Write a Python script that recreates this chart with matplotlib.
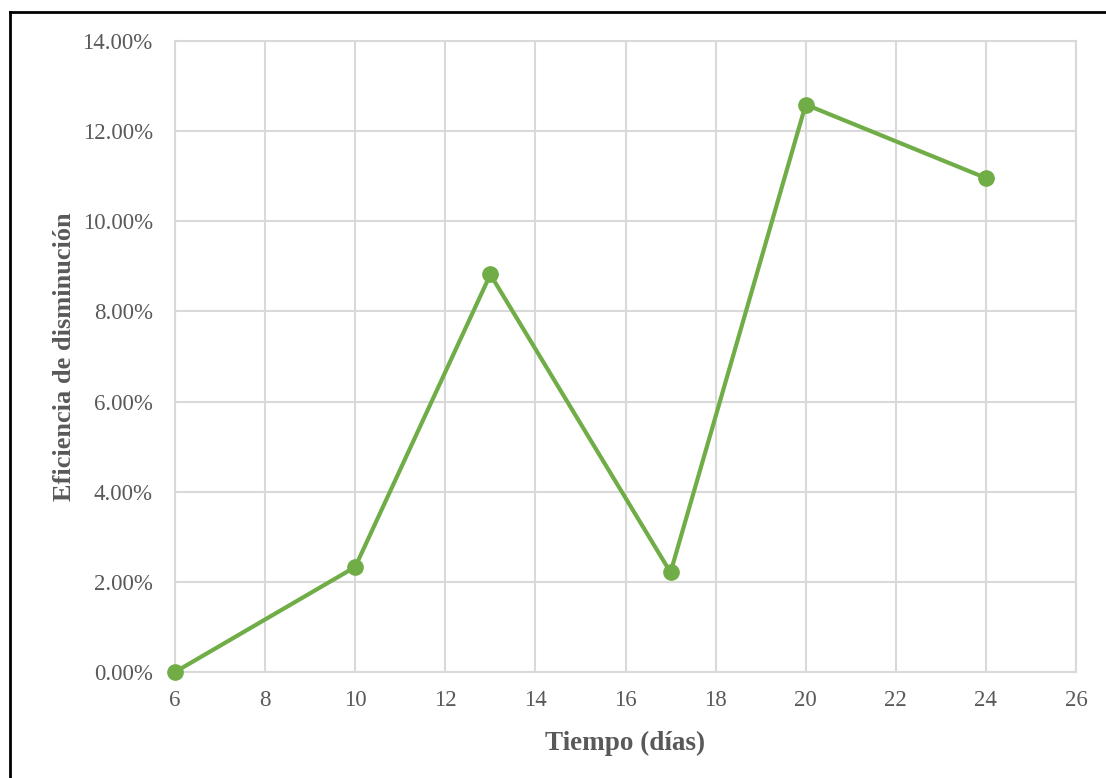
import numpy as np
import matplotlib.pyplot as plt
from matplotlib.lines import Line2D
from matplotlib.ticker import FuncFormatter

# datos
tiempo = [6, 10, 13, 17, 20, 24]
eficiencia = [0.0, 2.33, 8.82, 2.21, 12.59, 10.96]  # en %

x_ticks = np.arange(6, 27, 2)
y_ticks = np.arange(0, 15, 2)

plt.rcParams['font.family'] = ['Liberation Serif', 'DejaVu Serif']

fig = plt.figure(figsize=(11.06, 7.78), dpi=100)
ax = fig.add_axes([175 / 1106, 1 - 672 / 778, (1076 - 175) / 1106, (672 - 41) / 778])

ax.plot(tiempo, eficiencia, color='#70AD47', lw=3, marker='o', ms=11, zorder=3, clip_on=False)

ax.set_xlim(6, 26)
ax.set_ylim(0, 14)
ax.set_xticks(x_ticks)
ax.set_yticks(y_ticks)
ax.yaxis.set_major_formatter(FuncFormatter(lambda v, p: f'{v:.2f}%'))
ax.grid(True, color='#D9D9D9', lw=1.5)
ax.set_axisbelow(True)
for s in ax.spines.values():
    s.set_color('#D9D9D9')
    s.set_linewidth(1.5)
ax.tick_params(length=0, labelsize=16.5, colors='#595959')
ax.tick_params(axis='y', pad=16)
ax.tick_params(axis='x', pad=13)

ax.set_xlabel('Tiempo (días)', fontsize=19.5, fontweight='bold', color='#595959', labelpad=14)
ax.set_ylabel('Eficiencia de disminución', fontsize=19, fontweight='bold', color='#595959', labelpad=5)

# marco del grafico (solo izquierda y arriba visibles)
fig.add_artist(Line2D([9.5 / 1106, 9.5 / 1106], [0, 1 - 11.5 / 778], color='black', lw=2, transform=fig.transFigure))
fig.add_artist(Line2D([9.5 / 1106, 1], [1 - 11.5 / 778, 1 - 11.5 / 778], color='black', lw=2, transform=fig.transFigure))

fig.savefig('out.png', dpi=100)
